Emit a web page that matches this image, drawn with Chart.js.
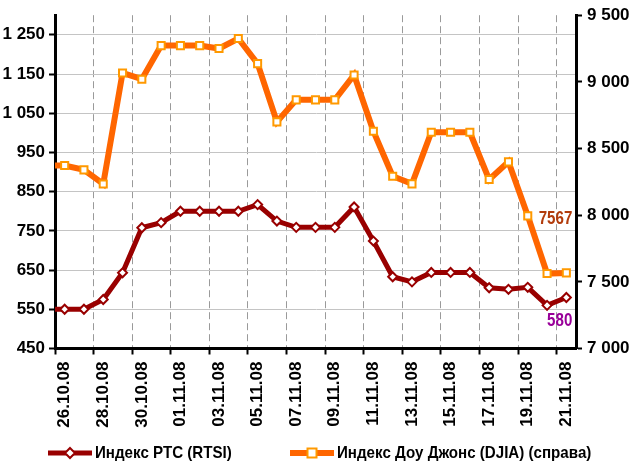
<!DOCTYPE html>
<html>
<head>
<meta charset="utf-8">
<title>РТС и DJIA</title>
<script src="https://cdn.jsdelivr.net/npm/chart.js@4.4.1/dist/chart.umd.min.js"></script>
<style>
    html, body { margin: 0; padding: 0; background: #fff; }
    #wrap { position: relative; width: 630px; height: 468px; }
    .legend-item {
        position: absolute; top: 443px; height: 20px;
        display: flex; align-items: center;
        font: bold 17px 'Liberation Sans Narrow', 'Arial Narrow', 'Liberation Sans', Arial, sans-serif;
        color: #000; white-space: nowrap;
    }
    .legend-item svg { margin-right: 3px; }
    /* текст в оригинале узкий */
    .legend-item span { display: inline-block; transform: scaleX(0.89); transform-origin: left center; }
</style>
</head>
<body>
<div id="wrap">
    <canvas id="chart" width="630" height="468"></canvas>
    <div class="legend-item" style="left:48px">
        <svg width="44" height="14"><line x1="0" y1="7" x2="44" y2="7" stroke="#990000" stroke-width="5"/><polygon points="22,2 27,7 22,12 17,7" fill="#fff" stroke="#990000" stroke-width="2"/></svg>
        <span>Индекс РТС (RTSI)</span>
    </div>
    <div class="legend-item" style="left:290px">
        <svg width="44" height="14"><line x1="0" y1="7" x2="44" y2="7" stroke="#FF6600" stroke-width="6"/><rect x="17.5" y="2.5" width="9" height="9" fill="#fff" stroke="#FF9900" stroke-width="2"/></svg>
        <span>Индекс Доу Джонс (DJIA) (справа)</span>
    </div>
</div>
<script>
// --- данные (первая дата 25.10 за левым краем, линия уходит за ось) ---
const days = [
    '25.10.08', '26.10.08', '27.10.08', '28.10.08', '29.10.08', '30.10.08', '31.10.08',
    '01.11.08', '02.11.08', '03.11.08', '04.11.08', '05.11.08', '06.11.08', '07.11.08',
    '08.11.08', '09.11.08', '10.11.08', '11.11.08', '12.11.08', '13.11.08', '14.11.08',
    '15.11.08', '16.11.08', '17.11.08', '18.11.08', '19.11.08', '20.11.08', '21.11.08'
];
const rtsi = [550, 550, 550, 575, 643, 758, 771, 800, 800, 800, 800, 817, 775, 759,
              759, 759, 811, 724, 633, 620, 644, 644, 644, 605, 601, 606, 560, 580];
const djia = [8372, 8372, 8340, 8234, 9067, 9020, 9272, 9272, 9272, 9250, 9325, 9137, 8700, 8865,
              8865, 8865, 9052, 8630, 8292, 8235, 8622, 8622, 8622, 8267, 8400, 7995, 7562, 7567];
const leftTicks = [450, 550, 650, 750, 850, 950, 1050, 1150, 1250];
const rightTicks = [7000, 7500, 8000, 8500, 9000, 9500];

const FONT = "'Liberation Sans Narrow', 'Arial Narrow', 'Liberation Sans', Arial, sans-serif";
Chart.defaults.font.family = FONT;
Chart.defaults.color = '#000';

// формат "1 250"
const fmt = v => String(v).replace(/\B(?=(\d{3})+(?!\d))/g, ' ');
const even = c => c.index % 2 === 0;

// подписи последних значений (сжатые по ширине)
const endLabels = {
    id: 'endLabels',
    afterDatasetsDraw(chart) {
        const ctx = chart.ctx;
        const last = days.length - 1;
        const pR = chart.getDatasetMeta(0).data[last];
        const pD = chart.getDatasetMeta(1).data[last];
        const put = (txt, color, x, y) => {
            ctx.save();
            ctx.translate(x, y);
            ctx.scale(0.84, 1);
            ctx.font = 'bold 18px ' + FONT;
            ctx.textAlign = 'right';
            ctx.textBaseline = 'middle';
            ctx.fillStyle = color;
            ctx.fillText(txt, 0, 0);
            ctx.restore();
        };
        put(String(djia[last]), '#B23C0C', pD.x + 6, pD.y - 54);
        put(String(rtsi[last]), '#990099', pR.x + 6, pR.y + 24);
    }
};

new Chart(document.getElementById('chart'), {
    type: 'line',
    data: {
        labels: days,
        datasets: [{
            label: 'Индекс РТС (RTSI)',
            data: rtsi,
            yAxisID: 'y',
            borderColor: '#990000',
            borderWidth: 5,
            pointStyle: 'rectRot',
            pointRadius: 4.5,
            pointBorderWidth: 2,
            pointBackgroundColor: '#fff',
            pointBorderColor: '#990000',
            tension: 0
        }, {
            label: 'Индекс Доу Джонс (DJIA) (справа)',
            data: djia,
            yAxisID: 'y1',
            borderColor: '#FF6600',
            borderWidth: 6,
            pointStyle: 'rect',
            pointRadius: 5,
            pointBorderWidth: 2,
            pointBackgroundColor: '#fff',
            pointBorderColor: '#FF9900',
            tension: 0
        }]
    },
    options: {
        responsive: false,
        animation: false,
        events: [],
        layout: { padding: { top: 15, left: 0, right: 0, bottom: 37.5 } },
        plugins: { legend: { display: false }, tooltip: { enabled: false } },
        scales: {
            x: {
                type: 'category',
                min: '26.10.08',
                offset: true,
                grid: {
                    offset: true,
                    color: c => even(c) ? '#9a9a9a' : 'rgba(0,0,0,0)',
                    lineWidth: 1,
                    tickColor: c => even(c) ? '#000' : 'rgba(0,0,0,0)',
                    tickLength: 6,
                    tickWidth: 2
                },
                border: { color: '#000', width: 3, dash: [7, 4] },
                ticks: {
                    autoSkip: false,
                    minRotation: 90,
                    maxRotation: 90,
                    padding: 7,
                    font: { size: 17, weight: 'bold' },
                    callback: function(v, i) { return i % 2 === 0 ? this.getLabelForValue(v) : ''; }
                },
                afterFit: s => { s.height = 82; }
            },
            y: {
                position: 'left',
                min: 450,
                max: 1300,
                afterBuildTicks: s => { s.ticks = leftTicks.map(v => ({ value: v })); },
                grid: { color: '#c4c4c4', lineWidth: 1, tickColor: '#000', tickLength: 6, tickWidth: 2 },
                border: { color: '#000', width: 3 },
                ticks: { padding: 4, font: { size: 17, weight: 'bold' }, callback: v => fmt(v) },
                afterFit: s => { s.width = 55; }
            },
            y1: {
                position: 'right',
                min: 7000,
                max: 9500,
                afterBuildTicks: s => { s.ticks = rightTicks.map(v => ({ value: v })); },
                grid: { drawOnChartArea: false, tickColor: '#000', tickLength: 6, tickWidth: 2 },
                border: { color: '#000', width: 3 },
                ticks: { padding: 5, font: { size: 17, weight: 'bold' }, callback: v => fmt(v) },
                afterFit: s => { s.width = 54; }
            }
        }
    },
    plugins: [endLabels]
});
</script>
</body>
</html>
